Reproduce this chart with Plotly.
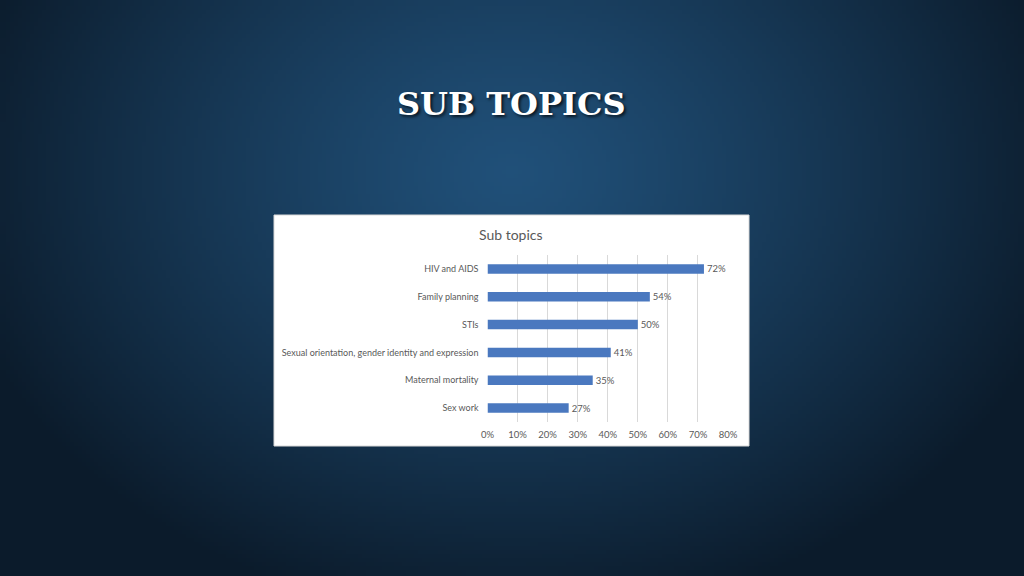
import base64
import struct
import zlib

import plotly.graph_objects as go

# ---- data ----
categories = [
    "HIV and AIDS",
    "Family planning",
    "STIs",
    "Sexual orientation, gender identity and expression",
    "Maternal mortality",
    "Sex work",
]
shares = [0.72, 0.54, 0.50, 0.41, 0.35, 0.27]
share_labels = ["72%", "54%", "50%", "41%", "35%", "27%"]
x_ticks = [0, 0.1, 0.2, 0.3, 0.4, 0.5, 0.6, 0.7, 0.8]
x_tick_labels = ["0%", "10%", "20%", "30%", "40%", "50%", "60%", "70%", "80%"]

W, H = 1024, 576


# ---- background vignette (decorative) ----
def make_bg_png(w=256, h=144):
    c_in = (32, 80, 121)
    c_out = (11, 27, 43)
    rows = []
    for j in range(h):
        y = (j + 0.5) / h
        row = bytearray([0])
        for i in range(w):
            x = (i + 0.5) / w
            d = (((x - 0.5) / 0.56) ** 2 + ((y - 0.30) / 0.78) ** 2) ** 0.5
            t = min(1.0, d) ** 1.2
            for k in range(3):
                row.append(int(round(c_in[k] + (c_out[k] - c_in[k]) * t)))
        rows.append(bytes(row))
    raw = b"".join(rows)

    def chunk(tag, data):
        return (struct.pack(">I", len(data)) + tag + data
                + struct.pack(">I", zlib.crc32(tag + data) & 0xFFFFFFFF))

    png = b"\x89PNG\r\n\x1a\n"
    png += chunk(b"IHDR", struct.pack(">IIBBBBB", w, h, 8, 2, 0, 0, 0))
    png += chunk(b"IDAT", zlib.compress(raw, 9))
    png += chunk(b"IEND", b"")
    return "data:image/png;base64," + base64.b64encode(png).decode()


def px_x(p):
    return p / W


def px_y(p):
    return 1 - p / H


gray = "#595959"
font_fam = "Lato, 'Open Sans', sans-serif"

fig = go.Figure(
    go.Bar(
        x=shares,
        y=categories,
        orientation="h",
        marker=dict(color="#4a78bf", line=dict(width=0)),
        text=share_labels,
        textposition="outside",
        constraintext="none",
        textfont=dict(color=gray, size=9.5, family=font_fam),
        cliponaxis=False,
        hoverinfo="skip",
    )
)

fig.update_layout(
    width=W,
    height=H,
    margin=dict(l=0, r=0, t=0, b=0, pad=0, autoexpand=False),
    paper_bgcolor="#0f2438",
    plot_bgcolor="rgba(0,0,0,0)",
    showlegend=False,
    bargap=0.66,
    images=[
        dict(
            source=make_bg_png(),
            xref="paper", yref="paper",
            x=0, y=1, sizex=1, sizey=1,
            sizing="stretch", layer="below",
        )
    ],
    shapes=[
        dict(
            type="rect", xref="paper", yref="paper", layer="below",
            x0=px_x(274), x1=px_x(749), y0=px_y(446), y1=px_y(215),
            fillcolor="white", line=dict(color="#d9d9d9", width=1),
        )
    ],
    annotations=[
        dict(
            text="<b>SUB TOPICS</b>", xref="paper", yref="paper",
            x=px_x(511), y=px_y(104), xanchor="center", yanchor="middle",
            showarrow=False,
            font=dict(family="'DejaVu Serif', serif", size=32, color="white",
                      shadow="2px 2px 3px rgba(0,0,0,0.7)"),
        ),
        dict(
            text="Sub topics", xref="paper", yref="paper",
            x=px_x(511), y=px_y(234), xanchor="center", yanchor="middle",
            showarrow=False,
            font=dict(family=font_fam, size=14, color=gray),
        ),
    ],
    xaxis=dict(
        domain=[px_x(487.5), px_x(728)],
        range=[0, 0.8],
        tickvals=x_ticks,
        ticktext=x_tick_labels,
        showgrid=True,
        gridcolor="#d9d9d9",
        gridwidth=1,
        zeroline=False,
        showline=False,
        ticks="",
        ticklabelstandoff=5,
        automargin=False,
        tickfont=dict(color=gray, size=9.5, family=font_fam),
        fixedrange=True,
    ),
    yaxis=dict(
        domain=[px_y(422), px_y(255)],
        autorange="reversed",
        showgrid=False,
        zeroline=False,
        showline=False,
        ticks="",
        ticklabelstandoff=8,
        automargin=False,
        tickfont=dict(color=gray, size=9, family=font_fam),
        fixedrange=True,
    ),
)

fig.write_html(
    "out.html",
    config={"displayModeBar": False},
    post_script="document.body.style.margin='0';document.body.style.overflow='hidden';",
)
